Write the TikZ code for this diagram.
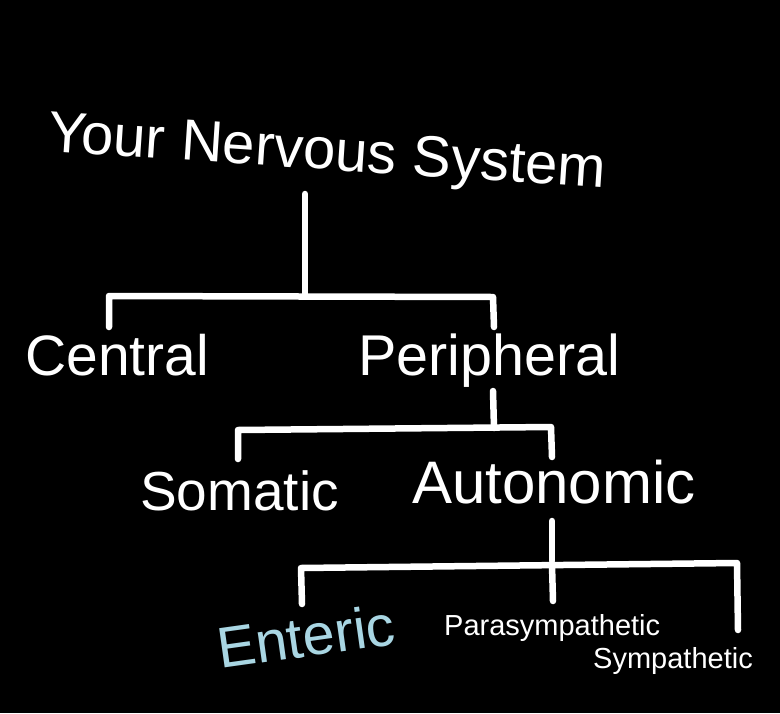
\documentclass[tikz,border=0pt]{standalone}
\usepackage{fontspec}
\setmainfont{Liberation Sans}
\definecolor{entericblue}{HTML}{A9D6E3}
\begin{document}
\begin{tikzpicture}[x=1pt,y=-1pt,
  lbl/.style={anchor=base west,inner sep=0pt,text=white},
  conn/.style={draw=white,line width=6.5pt,line cap=round,line join=round}]
\fill[black] (0,0) rectangle (780,713);
\useasboundingbox (0,0) rectangle (780,713);
% labels
\node[lbl,rotate=-3.8,font=\fontsize{58}{60}\selectfont] (title) at (47,151) {Your Nervous System};
\node[lbl,font=\fontsize{57}{60}\selectfont] (central) at (25,375) {Central};
\node[lbl,font=\fontsize{57.5}{60}\selectfont] (peripheral) at (358,375) {Peripheral};
\node[lbl,font=\fontsize{55}{60}\selectfont] (somatic) at (140,510) {Somatic};
\node[lbl,font=\fontsize{60}{60}\selectfont] (autonomic) at (412,503) {Autonomic};
\node[lbl,rotate=8,text=entericblue,font=\fontsize{57.5}{60}\selectfont] (enteric) at (220,669) {Enteric};
\node[lbl,font=\fontsize{29}{30}\selectfont] (para) at (444,635) {Parasympathetic};
\node[lbl,font=\fontsize{29}{30}\selectfont] (symp) at (593,668) {Sympathetic};
% connector points
\coordinate (t1) at (305,194);
\coordinate (t2) at (305,295);
\coordinate (a1) at (109,327);
\coordinate (a2) at (109,296);
\coordinate (a3) at (493,297);
\coordinate (a4) at (494,327);
\coordinate (p1) at (493,391);
\coordinate (p2) at (494,428);
\coordinate (b1) at (238,459);
\coordinate (b2) at (238,430);
\coordinate (b3) at (551,427);
\coordinate (b4) at (552,457);
\coordinate (c1) at (552,521);
\coordinate (c2) at (552,561);
\coordinate (d1) at (302,604);
\coordinate (d2) at (301,568);
\coordinate (d3) at (737,563);
\coordinate (d4) at (738,630);
\coordinate (m1) at (552,565);
\coordinate (m2) at (553,601);
% connectors
\draw[conn] (t1) -- (t2);
\draw[conn] (a1) -- (a2) -- (a3) -- (a4);
\draw[conn] (p1) -- (p2);
\draw[conn] (b1) -- (b2) -- (b3) -- (b4);
\draw[conn] (c1) -- (c2);
\draw[conn] (d1) -- (d2) -- (d3) -- (d4);
\draw[conn] (m1) -- (m2);
\end{tikzpicture}
\end{document}
